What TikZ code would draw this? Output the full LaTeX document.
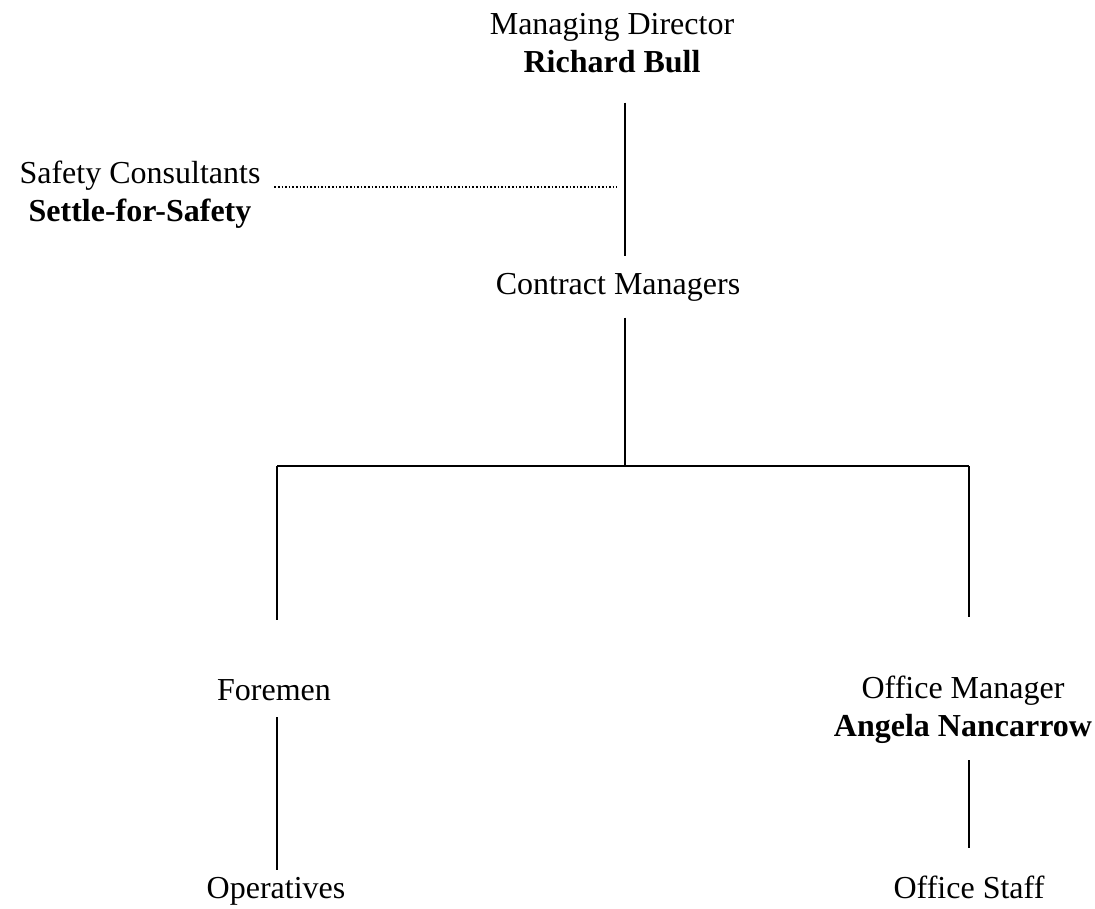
\documentclass[tikz,border=0pt]{standalone}
\usepackage{fontspec}
\setmainfont{Liberation Serif}
\usetikzlibrary{positioning}
\tikzset{
  post/.style={align=center, inner sep=0pt, font=\fontsize{12}{14.25}\selectfont},
  link/.style={line width=0.75pt},
  advice/.style={line width=0.75pt, dash pattern=on 0.6pt off 0.75pt}
}
\begin{document}
\begin{tikzpicture}[x=0.375pt, y=-0.375pt] % pixel grid of the chart
  \useasboundingbox (0,0) rectangle (1095,908);
  % posts
  \node[post] (md) at (612,43) {Managing Director\\\textbf{Richard Bull}};
  \node[post] (sc) at (140,195) {Safety Consultants\\\textbf{Settle-for-Safety}};
  \node[post] (cm) at (618,287) {Contract Managers};
  \node[post] (fm) at (274,690) {Foremen};
  \node[post] (om) at (963,710) {Office Manager\\\textbf{Angela Nancarrow}};
  \node[post, anchor=base] (op) at (276,898) {Operatives};
  \node[post, anchor=base] (os) at (969,898) {Office Staff};
  % trunk and branch points
  \coordinate (trunk) at (625,466);
  \coordinate (left) at (277,466);
  \coordinate (right) at (969,466);
  % lines of command
  \draw[link, shorten <=11pt, shorten >=6pt] (md.south -| trunk) -- (cm.north -| trunk);
  \draw[advice, shorten <=5pt, shorten >=3pt] (sc.east |- 0,187) -- (trunk |- 0,187);
  \draw[link, shorten <=6pt] (cm.south -| trunk) -- (trunk);
  \draw[link] (left) -- (right);
  \draw[link, shorten >=22pt] (left) -- (left |- fm.north);
  \draw[link, shorten >=22pt] (right) -- (right |- om.north);
  \draw[link, shorten <=6pt, shorten >=2.5pt] (fm.south -| left) -- (op.north -| left);
  \draw[link, shorten <=6pt, shorten >=10pt] (om.south -| right) -- (os.north -| right);
\end{tikzpicture}
\end{document}
